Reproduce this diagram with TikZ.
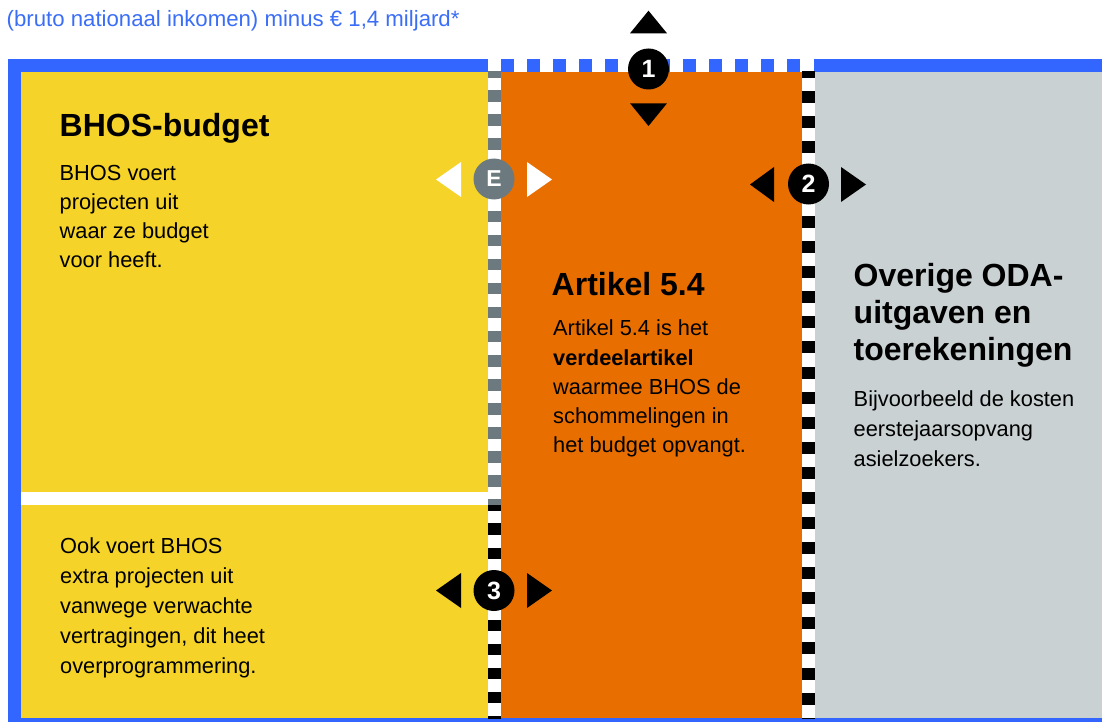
\documentclass[tikz,border=0pt]{standalone}
\usepackage{fontspec}
\setmainfont{Liberation Sans}
\definecolor{bblue}{HTML}{3366FF}
\definecolor{tblue}{HTML}{3B6EF7}
\definecolor{byellow}{HTML}{F5D328}
\definecolor{borange}{HTML}{E86E00}
\definecolor{bgrey}{HTML}{C9D1D3}
\definecolor{dgrey}{HTML}{6C7A80}
\tikzset{
  body/.style={anchor=base west, inner sep=0pt, align=left, font=\fontsize{21.8}{29.3}\selectfont},
  bodyb/.style={body, font=\fontsize{21.8}{30}\selectfont},
  head/.style={anchor=base west, inner sep=0pt, align=left, font=\fontsize{32}{36.7}\selectfont\bfseries},
  marker/.style={circle, inner sep=0pt, minimum size=41pt, text=white, font=\fontsize{25}{25}\selectfont\bfseries},
}
\begin{document}
\begin{tikzpicture}[x=1pt,y=-1pt]
\useasboundingbox (0,0) rectangle (1102,722);
\fill[white] (0,0) rectangle (1102,722);
% blue frame
\fill[bblue] (8,59) rectangle (487.5,72);
\fill[bblue] (814,59) rectangle (1102,72);
\foreach \k in {0,...,11} \fill[bblue] ({501+26*\k},59) rectangle ++(13,13);
\fill[bblue] (8,59) rectangle (21,722);
\fill[bblue] (8,718) rectangle (1102,722);
% panels
\fill[byellow] (21,72) rectangle (487.5,492);
\fill[byellow] (21,505) rectangle (487.5,718);
\fill[borange] (501,72) rectangle (802,718);
\fill[bgrey] (815,72) rectangle (1102,718);
% left dashed column
\begin{scope}
  \clip (487.5,72) rectangle (501,505);
  \foreach \k in {0,...,27} \fill[dgrey] (487.5,{66.3+24.06*\k}) rectangle ++(13.5,11.5);
\end{scope}
\begin{scope}
  \clip (487.5,505) rectangle (501,718);
  \foreach \k in {0,...,27} \fill[black] (487.5,{66.3+24.06*\k}) rectangle ++(13.5,11.5);
\end{scope}
% right dashed column
\begin{scope}
  \clip (802,72) rectangle (815,718);
  \foreach \k in {0,...,26} \fill[black] (802,{65.6+25.08*\k}) rectangle ++(13,12);
\end{scope}
% triangles
\fill[black] (630,33.3) -- (667,33.3) -- (648.5,10.7) -- cycle;
\fill[black] (630,103.3) -- (667,103.3) -- (648.5,126) -- cycle;
\fill[white] (461,162) -- (461,197) -- (436,179.5) -- cycle;
\fill[white] (527,162) -- (527,197) -- (552,179.5) -- cycle;
\fill[black] (774,167) -- (774,202) -- (750,184.5) -- cycle;
\fill[black] (841,167) -- (841,202) -- (866,184.5) -- cycle;
\fill[black] (461,573) -- (461,608) -- (436,590.5) -- cycle;
\fill[black] (527,573) -- (527,608) -- (552,590.5) -- cycle;
% markers
\node[marker, fill=black] (m1) at (648.5,69) {1};
\node[marker, fill=dgrey, font=\fontsize{23}{23}\selectfont\bfseries] (mE) at (494,179) {E};
\node[marker, fill=black] (m2) at (808.5,184) {2};
\node[marker, fill=black] (m3) at (494,590.5) {3};
% texts (multi-line nodes: base = baseline of last line)
\node[body, text=tblue, font=\fontsize{22.2}{29.3}\selectfont] (top) at (6.5,27) {(bruto nationaal inkomen) minus € 1,4 miljard*};
\node[head] (h1) at (59.5,136.7) {BHOS-budget};
\node[body] (b1) at (59.5,267.9) {BHOS voert\\projecten uit\\waar ze budget\\voor heeft.};
\node[head] (h2) at (551.5,295) {Artikel 5.4};
\node[body] (b2) at (553,452.9) {Artikel 5.4 is het\\\textbf{verdeelartikel}\\waarmee BHOS de\\schommelingen in\\het budget opvangt.};
\node[head] (h3) at (853.5,360.1) {Overige ODA-\\uitgaven en\\toerekeningen};
\node[bodyb] (b3) at (853.5,466.7) {Bijvoorbeeld de kosten\\eerstejaarsopvang\\asielzoekers.};
\node[bodyb] (b4) at (60,673.5) {Ook voert BHOS\\extra projecten uit\\vanwege verwachte\\vertragingen, dit heet\\overprogrammering.};
\end{tikzpicture}
\end{document}
